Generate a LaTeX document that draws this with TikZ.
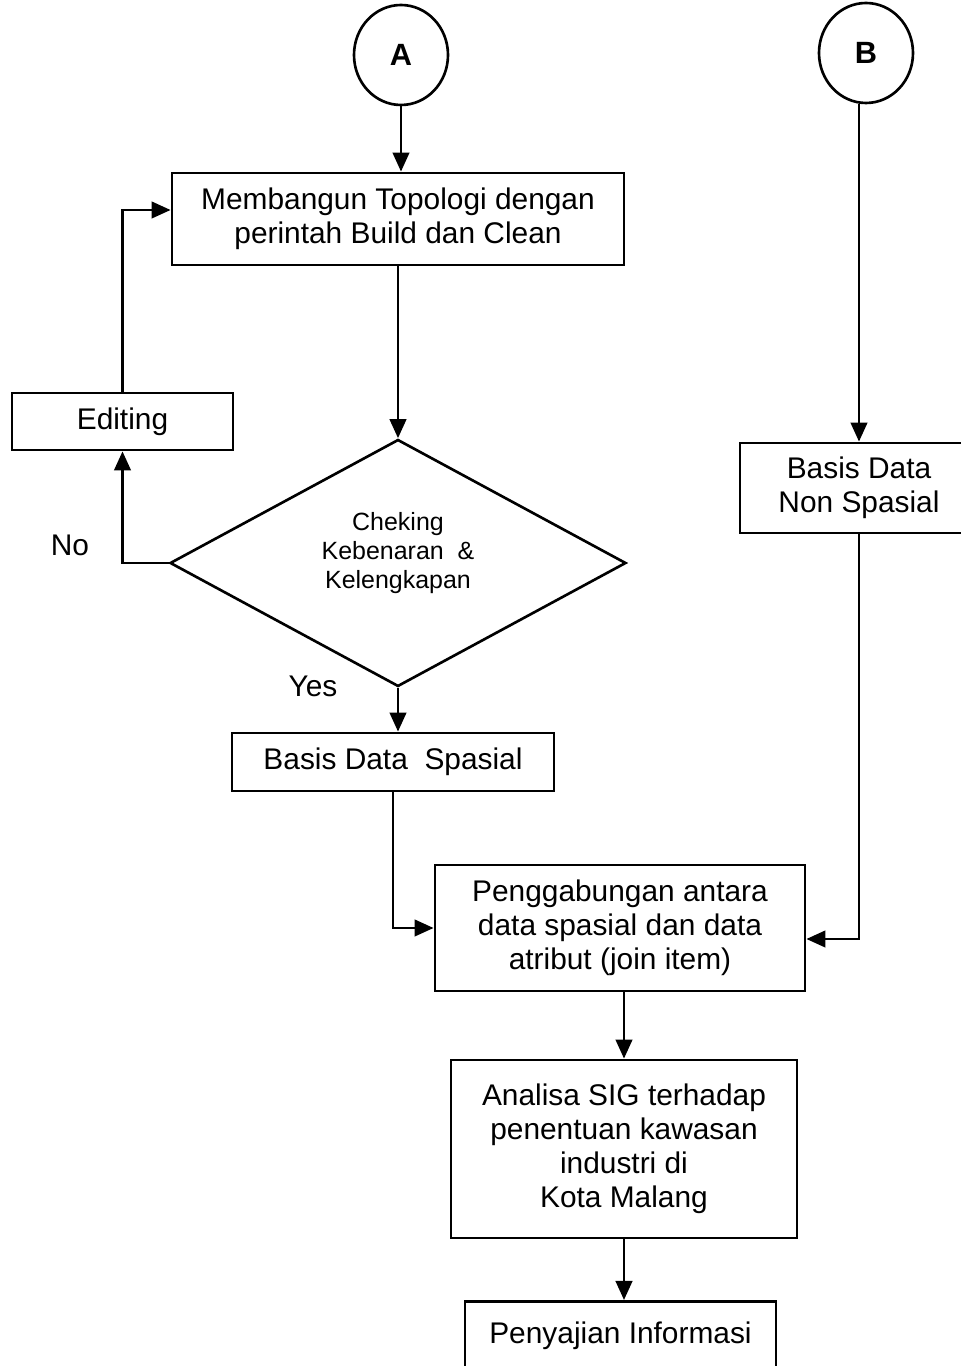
\documentclass[tikz,border=0pt]{standalone}
\usepackage{fontspec}
\setmainfont{Liberation Sans}
\usetikzlibrary{arrows.meta, positioning, shapes.geometric}

\begin{document}
\begin{tikzpicture}[
    box/.style={draw, line width=1.6pt, rectangle, align=center, inner sep=0pt,
      font=\fontsize{17}{19.3}\selectfont},
    decision/.style={draw, line width=1.5pt, diamond, inner sep=0pt},
    smalltext/.style={align=center, font=\fontsize{14.2}{16.5}\selectfont},
    refpoint/.style={draw, line width=1.5pt, ellipse, minimum width=1.88cm,
      minimum height=2.0cm, font=\fontsize{17.5}{19}\selectfont\bfseries},
    conn/.style={line width=1.5pt},
    arr/.style={conn, -{Triangle[length=0.38cm, width=0.33cm]}},
    lbl/.style={font=\fontsize{17}{19.3}\selectfont}
  ]
    \useasboundingbox (0,0) rectangle (19.22,27.32);

    % Connectors A and B
    \node[refpoint] (A) at (8.02, 26.22) {A};
    \node[refpoint] (B) at (17.32, 26.26) {B};

    % Left branch
    \node[box, minimum width=9.04cm, minimum height=1.84cm] (memb) at (7.96, 22.94)
      {Membangun Topologi dengan\\perintah Build dan Clean};
    \node[box, minimum width=4.42cm, minimum height=1.14cm] (edit) at (2.45, 18.89) {Editing};
    \node[decision, minimum width=9.12cm, minimum height=4.94cm] (chk) at (7.96, 16.06) {};
    \node[smalltext] (chktext) at (7.96, 16.26) {Cheking\\Kebenaran\ \ \&\\Kelengkapan};
    \node[lbl] (no) at (1.40, 16.42) {No};
    \node[lbl] (yes) at (6.26, 13.60) {Yes};
    \node[box, minimum width=6.44cm, minimum height=1.16cm] (spasial) at (7.86, 12.08)
      {Basis Data\ \ Spasial};

    % Right branch
    \node[box, minimum width=4.76cm, minimum height=1.80cm] (nonsp) at (17.18, 17.56)
      {Basis Data\\Non Spasial};

    % Join and output
    \node[box, minimum width=7.40cm, minimum height=2.52cm] (gabung) at (12.40, 8.76)
      {Penggabungan antara\\data spasial dan data\\atribut (join item)};
    \node[box, minimum width=6.92cm, minimum height=3.56cm] (analisa) at (12.48, 4.34)
      {Analisa SIG terhadap\\penentuan kawasan\\industri di\\Kota Malang};
    \node[box, anchor=north, minimum width=6.22cm, text height=0.84cm, text depth=1cm]
      (saji) at (12.41, 1.32) {Penyajian Informasi};

    % Arrows
    \draw[arr] (A.south) -- (A.south |- memb.north);
    \draw[arr] (memb.south) -- (chk.north);
    \draw[arr] (chk.west) -| (edit.south);
    \draw[arr] (edit.north) |- ([yshift=0.18cm]memb.west);
    \draw[arr] (chk.south) -- (chk.south |- spasial.north);
    \draw[arr] (spasial.south) |- (gabung.west);
    \draw[arr] (nonsp.north |- B.south) -- (nonsp.north);
    \draw[arr] (nonsp.south) |- ([yshift=-0.22cm]gabung.east);
    \draw[arr] (analisa.north |- gabung.south) -- (analisa.north);
    \draw[arr] (analisa.south) -- (analisa.south |- saji.north);
\end{tikzpicture}
\end{document}
